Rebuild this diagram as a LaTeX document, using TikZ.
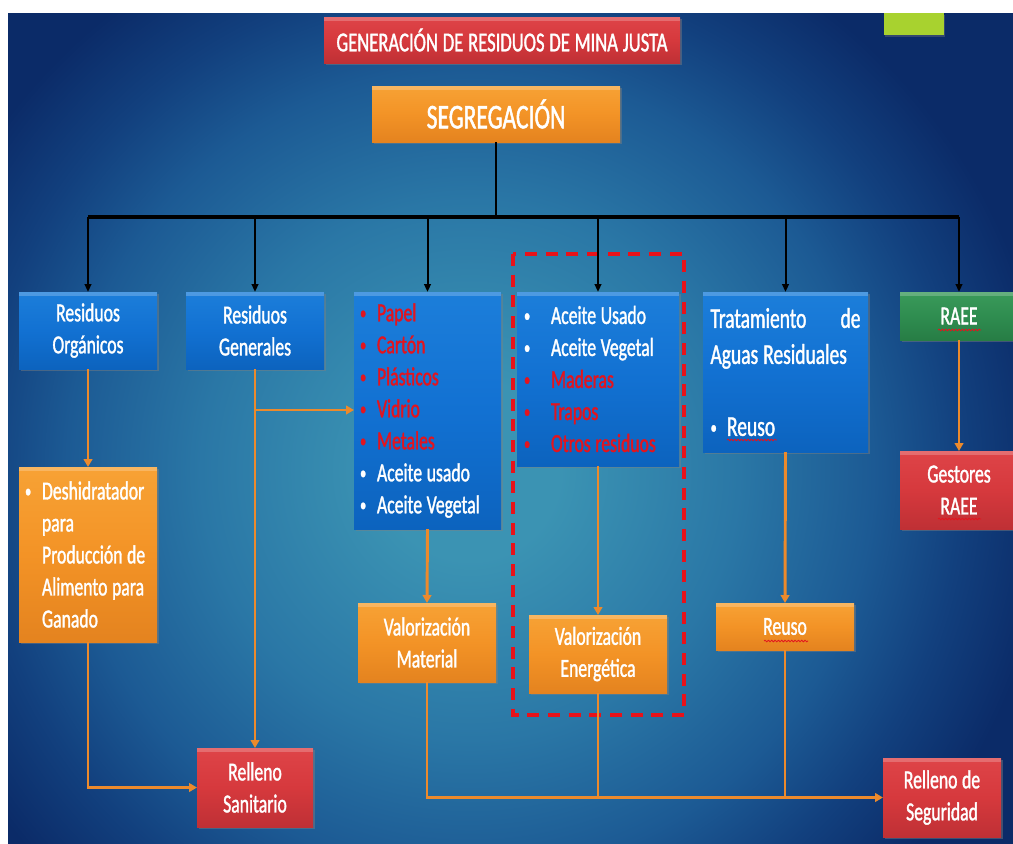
\documentclass[tikz,border=0pt]{standalone}
\usepackage{fontspec}
\setmainfont{Carlito}[FakeStretch=0.68, FakeBold=1.3, WordSpace=1.15]
\usetikzlibrary{arrows.meta,shadows,decorations.pathmorphing}
\definecolor{bgA}{HTML}{3B93B3}
\definecolor{bgB}{HTML}{2A77A6}
\definecolor{bgC}{HTML}{1C5A94}
\definecolor{bgD}{HTML}{12407E}
\definecolor{bgE}{HTML}{0B2B68}
\definecolor{blueT}{HTML}{1C7EDA}
\definecolor{blueM}{HTML}{1271D2}
\definecolor{blueB}{HTML}{0C63BE}
\definecolor{orT}{HTML}{F7A235}
\definecolor{orM}{HTML}{F39326}
\definecolor{orB}{HTML}{E4831F}
\definecolor{rdT}{HTML}{DE4448}
\definecolor{rdM}{HTML}{D6393D}
\definecolor{rdB}{HTML}{BF3035}
\definecolor{gnT}{HTML}{3A9A5A}
\definecolor{gnM}{HTML}{2F8D50}
\definecolor{gnB}{HTML}{277D45}
\definecolor{lgreen}{HTML}{A8D22F}
\definecolor{tred}{HTML}{E3141E}
\definecolor{conn}{HTML}{EC8A2C}
\definecolor{dashred}{HTML}{E8121A}
\pgfdeclareradialshading{bgrad}{\pgfpoint{0bp}{0bp}}{color(0bp)=(bgA); color(4bp)=(bgA); color(12bp)=(bgB); color(18bp)=(bgC); color(22bp)=(bgD); color(26bp)=(bgE); color(40bp)=(bgE)}
\newcommand\fsn{\fontsize{19.5pt}{24pt}\selectfont}
\newcommand\fstitle{\fontsize{20.5pt}{24pt}\selectfont}
\newcommand\fst{\fontsize{21.5pt}{27pt}\selectfont}
\newcommand\fsseg{\fontsize{26pt}{30pt}\selectfont}
\newcommand\bulglyph{\raisebox{1.6pt}{\fontsize{14pt}{14pt}\selectfont\textbullet}}
\newcommand\blA{\makebox[12.75pt][l]{\bulglyph}}
\newcommand\blB{\makebox[20.25pt][l]{\bulglyph}}
\newcommand\blC{\makebox[12.4pt][l]{\bulglyph}}
\tikzset{
  box/.style={inner sep=0pt, outer sep=0pt, text=white, font=\fsn, align=center,
    drop shadow={opacity=0.45, shadow xshift=1.5pt, shadow yshift=-1.8pt},
    path picture={\fill[white,opacity=0.22] (path picture bounding box.north west) rectangle ([yshift=-3pt]path picture bounding box.north east);}},
  bluebox/.style={box, top color=blueT, bottom color=blueB, middle color=blueM},
  orbox/.style={box, top color=orT, bottom color=orB, middle color=orM},
  rdbox/.style={box, top color=rdT, bottom color=rdB, middle color=rdM},
  gnbox/.style={box, top color=gnT, bottom color=gnB, middle color=gnM},
  sz/.style 2 args={minimum width=#1*0.75pt, minimum height=#2*0.75pt},
  busline/.style={line width=3pt, black},
  drop/.style={line width=1.5pt, black, -{Triangle[length=6pt,width=5pt]}},
  oline/.style={line width=2.2pt, conn},
  oarrow/.style={oline, -{Triangle[length=6pt,width=6.5pt]}},
  squig/.style={tred, line width=0.6pt, decorate, decoration={snake, amplitude=0.6pt, segment length=2.5pt}}
}
\begin{document}
\begin{tikzpicture}[x=0.75pt,y=-0.75pt]
\useasboundingbox (0,0) rectangle (1013,843);
\fill[white] (0,0) rectangle (1013,843);
\begin{scope}
  \clip (8,13) rectangle (1013,843);
  \shade[shading=bgrad] (-90,-90) rectangle (1030,1030);
  \fill[lgreen, drop shadow={opacity=0.35, shadow xshift=1pt, shadow yshift=-1.2pt}] (884,13) rectangle (944,35);
\end{scope}

% top
\node[rdbox, sz={356}{46}, font=\fstitle] (title) at (502,40) {GENERACIÓN DE RESIDUOS DE MINA JUSTA};
\node[orbox, sz={248}{56}, font=\fsseg] (seg) at (496,114) {SEGREGACIÓN};

% first row
\node[bluebox, sz={138}{77}] (org) at (88,330.5) {Residuos\\Orgánicos};
\node[bluebox, sz={138}{77}] (gen) at (255,330.5) {Residuos\\Generales};
\node[bluebox, sz={147}{237}, align=flush left, inner xsep=4.5pt, text width=101.25pt] (lst3) at (427.5,410.5)
  {\textcolor{tred}{\blA Papel}\\
   \textcolor{tred}{\blA Cartón}\\
   \textcolor{tred}{\blA Plásticos}\\
   \textcolor{tred}{\blA Vidrio}\\
   \textcolor{tred}{\blA Metales}\\
   \blA Aceite usado\\
   \blA Aceite Vegetal};
\node[bluebox, sz={162}{174}, align=flush left, inner xsep=5.25pt, text width=111pt] (lst4) at (598,379)
  {\blB Aceite Usado\\
   \blB Aceite Vegetal\\
   \textcolor{tred}{\blB Maderas}\\
   \textcolor{tred}{\blB Trapos}\\
   \textcolor{tred}{\blB Otros residuos}};
\node[bluebox, sz={165}{160}, align=flush left, inner xsep=5.6pt, text width=112.5pt, font=\fst] (trat) at (785.5,372)
  {Tratamiento\hskip 0pt plus 1filll de\\
   Aguas Residuales\\[27pt]
   \blC Reuso};
\node[gnbox, sz={118}{48}] (raee) at (959,316) {RAEE};

% second row
\node[orbox, sz={138}{175}, align=flush left, inner xsep=4.5pt, text width=94.5pt] (desh) at (88,554.5)
  {\blA Deshidratador\\
   \hspace*{12.75pt}para\\
   \hspace*{12.75pt}Producción de\\
   \hspace*{12.75pt}Alimento para\\
   \hspace*{12.75pt}Ganado};
\node[rdbox, sz={118}{78}] (gest) at (959,490) {Gestores\\RAEE};
\node[orbox, sz={138}{79}] (vmat) at (427,642.5) {Valorización\\Material};
\node[orbox, sz={138}{78}] (vene) at (598,654) {Valorización\\Energética};
\node[orbox, sz={138}{47}] (reuso) at (785,626.5) {Reuso};

% bottom
\node[rdbox, sz={116}{79}] (rsan) at (255,787.5) {Relleno\\Sanitario};
\node[rdbox, sz={118}{79}] (rseg) at (942,797.5) {Relleno de\\Seguridad};

% dashed frame
\draw[dashred, line width=3pt, dash pattern=on 9pt off 6.5pt] (513,254) rectangle (684,715);

% black tree
\coordinate (bus) at (496,217);
\coordinate (brk) at (255,410);
\draw[line width=1.8pt] (seg.south) -- (bus);
\draw[busline] (org.north |- bus) -- (raee.north |- bus);
\foreach \n in {org,gen,lst3,lst4,trat,raee}
  \draw[drop] (\n.north |- bus) -- (\n.north);

% orange connectors
\draw[oarrow] (org.south) -- (desh.north);
\draw[oarrow] (gen.south) -- (rsan.north);
\draw[oarrow] (brk) -- (lst3.west |- brk);
\draw[oarrow] (desh.south) |- (rsan.west);
\draw[oarrow] (lst3.south) -- (vmat.north);
\draw[oarrow] (lst4.south) -- (vene.north);
\draw[oarrow] (trat.south) -- (reuso.north);
\draw[oarrow] (raee.south) -- (gest.north);
\draw[oarrow] (vmat.south) |- (rseg.west);
\draw[oline] (vene.south) -- (vene.south |- rseg.west);
\draw[oline] (reuso.south) -- (reuso.south |- rseg.west);

% spell-check squiggles
\draw[squig] (727,440) -- (777,440);
\draw[squig] (938,330) -- (981,330);
\draw[squig] (938,519) -- (981,519);
\draw[squig] (764,641) -- (808,641);
\end{tikzpicture}
\end{document}
